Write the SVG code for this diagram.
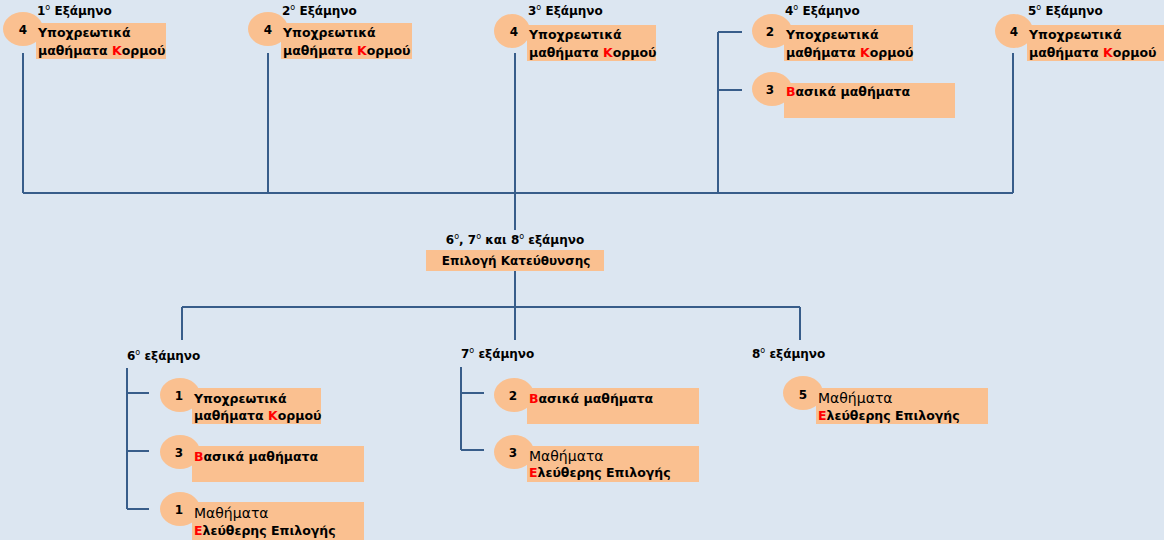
<svg xmlns="http://www.w3.org/2000/svg" width="1164" height="540" viewBox="0 0 1164 540">
<style>
.bg{fill:#dce6f1}
.c{fill:#fac090}
.r{fill:#fac090}
.ln{stroke:#385d8a;stroke-width:2;fill:none}
text{font-family:"DejaVu Sans","Liberation Sans",Arial,sans-serif;font-size:12px;font-weight:bold;fill:#000}
.t{font-size:12.5px}
.n{text-anchor:middle}
.red{fill:#ff0000}
.reg{font-weight:normal;font-size:14px}
.sup{font-size:8px;font-weight:normal}
</style>
<rect class="bg" x="0" y="0" width="1164" height="540"/>
<g id="connectors">
<path class="ln" d="M23 53V193M268 53V193M1013 53V193M23 193H1013"/>
<path class="ln" d="M718 32V193M718 32H742M718 90H742"/>
<path class="ln" d="M515 53V230M515 271V340M182 307H800M182 307V340M800 307V340"/>
<path class="ln" d="M127 368V509M127 393H149M127 451H149M127 509H149"/>
<path class="ln" d="M461 367V450M461 393H484M461 450H484"/>
</g>
<g id="sem1">
<text x="37" y="15">1<tspan class="sup" dy="-5">ο</tspan><tspan dy="5"> Εξάμηνο</tspan></text>
<ellipse class="c" cx="23" cy="29" rx="20" ry="17"/>
<rect class="r" x="36" y="23" width="130" height="36"/>
<text class="n" x="23" y="34">4</text>
<text class="t" x="38" y="37">Υποχρεωτικά</text>
<text class="t" x="38" y="55">μαθήματα <tspan class="red">Κ</tspan>ορμού</text>
</g>
<g id="sem2">
<text x="282" y="15">2<tspan class="sup" dy="-5">ο</tspan><tspan dy="5"> Εξάμηνο</tspan></text>
<ellipse class="c" cx="268" cy="29" rx="20" ry="17"/>
<rect class="r" x="281" y="23" width="131" height="36"/>
<text class="n" x="268" y="34">4</text>
<text class="t" x="283" y="37">Υποχρεωτικά</text>
<text class="t" x="283" y="55">μαθήματα <tspan class="red">Κ</tspan>ορμού</text>
</g>
<g id="sem3">
<text x="528" y="15">3<tspan class="sup" dy="-5">ο</tspan><tspan dy="5"> Εξάμηνο</tspan></text>
<ellipse class="c" cx="512" cy="31" rx="18" ry="17"/>
<rect class="r" x="527" y="25" width="129" height="36"/>
<text class="n" x="514" y="36">4</text>
<text class="t" x="529" y="39">Υποχρεωτικά</text>
<text class="t" x="529" y="57">μαθήματα <tspan class="red">Κ</tspan>ορμού</text>
</g>
<g id="sem4">
<text x="785" y="15">4<tspan class="sup" dy="-5">ο</tspan><tspan dy="5"> Εξάμηνο</tspan></text>
<ellipse class="c" cx="772" cy="31" rx="20" ry="17"/>
<rect class="r" x="784" y="25" width="129" height="36"/>
<text class="n" x="770" y="36">2</text>
<text class="t" x="786" y="39">Υποχρεωτικά</text>
<text class="t" x="786" y="57">μαθήματα <tspan class="red">Κ</tspan>ορμού</text>
</g>
<g id="sem4b">
<ellipse class="c" cx="772" cy="89" rx="20" ry="17"/>
<rect class="r" x="784" y="83" width="171" height="35"/>
<text class="n" x="770" y="94">3</text>
<text class="t" x="786" y="96"><tspan class="red">Β</tspan>ασικά μαθήματα</text>
</g>
<g id="sem5">
<text x="1028" y="15">5<tspan class="sup" dy="-5">ο</tspan><tspan dy="5"> Εξάμηνο</tspan></text>
<ellipse class="c" cx="1014" cy="31" rx="19" ry="17"/>
<rect class="r" x="1027" y="25" width="137" height="36"/>
<text class="n" x="1014" y="36">4</text>
<text class="t" x="1029" y="39">Υποχρεωτικά</text>
<text class="t" x="1029" y="57">μαθήματα <tspan class="red">Κ</tspan>ορμού</text>
</g>
<g id="choice">
<text class="n" x="515" y="244">6<tspan class="sup" dy="-5">ο</tspan><tspan dy="5">, 7</tspan><tspan class="sup" dy="-5">ο</tspan><tspan dy="5"> και 8</tspan><tspan class="sup" dy="-5">ο</tspan><tspan dy="5"> εξάμηνο</tspan></text>
<rect class="r" x="426" y="250" width="178" height="21"/>
<text class="n" x="516" y="265">Επιλογή Κατεύθυνσης</text>
</g>
<g id="sem6">
<text x="127" y="360">6<tspan class="sup" dy="-5">ο</tspan><tspan dy="5"> εξάμηνο</tspan></text>
<ellipse class="c" cx="180" cy="395" rx="20" ry="17"/>
<rect class="r" x="192" y="388" width="129" height="36"/>
<text class="n" x="179" y="400">1</text>
<text class="t" x="194" y="403">Υποχρεωτικά</text>
<text class="t" x="194" y="420">μαθήματα <tspan class="red">Κ</tspan>ορμού</text>
<ellipse class="c" cx="180" cy="452" rx="20" ry="17"/>
<rect class="r" x="192" y="446" width="172" height="36"/>
<text class="n" x="179" y="457">3</text>
<text class="t" x="194" y="461"><tspan class="red">Β</tspan>ασικά μαθήματα</text>
<ellipse class="c" cx="180" cy="509" rx="20" ry="17"/>
<rect class="r" x="192" y="502" width="172" height="40"/>
<text class="n" x="179" y="514">1</text>
<text class="reg" x="194" y="518">Μαθήματα</text>
<text class="t" x="194" y="535"><tspan class="red">Ε</tspan>λεύθερης Επιλογής</text>
</g>
<g id="sem7">
<text x="461" y="358">7<tspan class="sup" dy="-5">ο</tspan><tspan dy="5"> εξάμηνο</tspan></text>
<ellipse class="c" cx="514" cy="395" rx="20" ry="17"/>
<rect class="r" x="527" y="388" width="172" height="36"/>
<text class="n" x="513" y="400">2</text>
<text class="t" x="529" y="403"><tspan class="red">Β</tspan>ασικά μαθήματα</text>
<ellipse class="c" cx="514" cy="452" rx="20" ry="17"/>
<rect class="r" x="527" y="446" width="172" height="36"/>
<text class="n" x="513" y="457">3</text>
<text class="reg" x="529" y="461">Μαθήματα</text>
<text class="t" x="529" y="477"><tspan class="red">Ε</tspan>λεύθερης Επιλογής</text>
</g>
<g id="sem8">
<text x="752" y="358">8<tspan class="sup" dy="-5">ο</tspan><tspan dy="5"> εξάμηνο</tspan></text>
<ellipse class="c" cx="803" cy="393" rx="20" ry="17"/>
<rect class="r" x="816" y="388" width="172" height="36"/>
<text class="n" x="803" y="399">5</text>
<text class="reg" x="818" y="403">Μαθήματα</text>
<text class="t" x="818" y="420"><tspan class="red">Ε</tspan>λεύθερης Επιλογής</text>
</g>
</svg>
